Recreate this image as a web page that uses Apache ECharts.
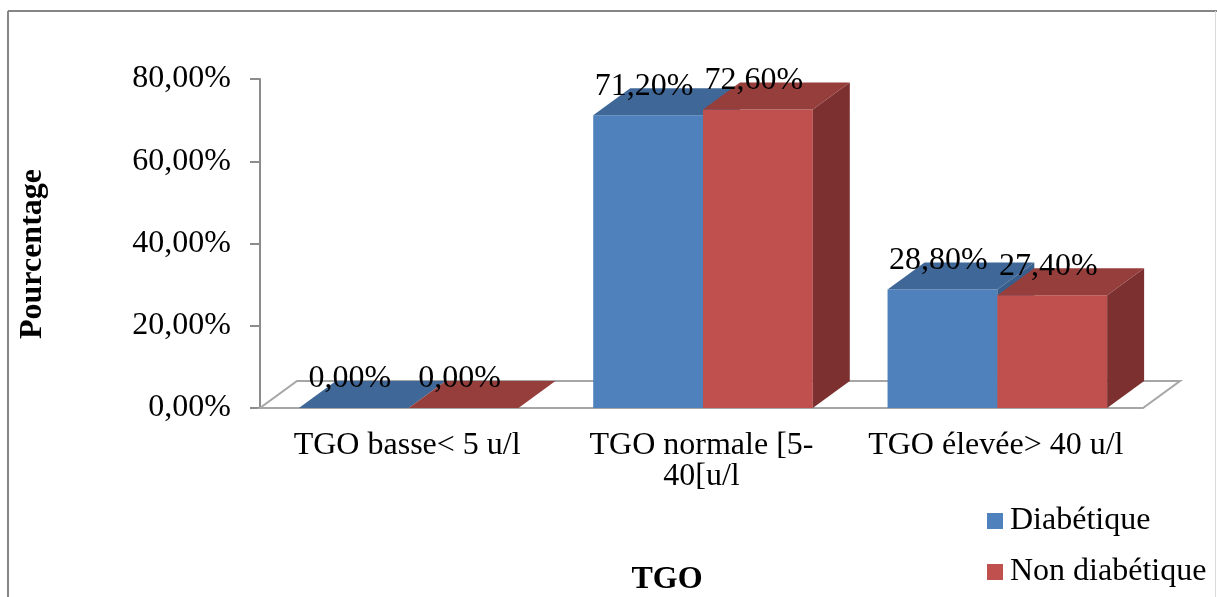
<!DOCTYPE html>
<html>
<head>
<meta charset="utf-8">
<title>TGO</title>
<script src="https://cdn.jsdelivr.net/npm/echarts@6/dist/echarts.min.js"></script>
<style>
  html, body { margin: 0; padding: 0; background: #ffffff; }
  #chart { width: 1217px; height: 597px; }
</style>
</head>
<body>
<div id="chart"></div>
<script>
// Categories (TGO levels) and the share of each group, in percent
const categories = ['TGO basse< 5 u/l', 'TGO normale [5-\n40[u/l', 'TGO élevée> 40 u/l'];
const diabetique = [0.0, 71.2, 28.8];
const nonDiabetique = [0.0, 72.6, 27.4];
const seriesNames = ['Diabétique', 'Non diabétique'];
const yMin = 0, yMax = 80, yStep = 20;

const FONT = '"Liberation Serif", "Times New Roman", serif';
const FS = 32;                  // main text size
const DX = 37, DY = -27;        // oblique depth of the 3D boxes and floor
const BAR_FRAC = 0.373;         // width of one bar as a share of the category band

const palette = [
  { front: '#4F81BD', top: '#3F6797', side: '#385E8B' },
  { front: '#C0504D', top: '#953E3C', side: '#7C3130' }
];

const fmtPct = v => v.toFixed(2).replace('.', ',') + '%';

// One 3D box per data item: front face, side face, top face, value label
function makeBoxRenderer(slot) {
  const col = palette[slot];
  return function (params, api) {
    const ci = api.value(0);
    const v = api.value(1);
    const base = api.coord([ci, 0]);
    const top = api.coord([ci, v]);
    const band = api.size([1, 0])[0];
    const w = band * BAR_FRAC;
    const x0 = base[0] + 1.5 + (slot === 0 ? -w : 0);
    const ty = top[1], by = base[1];
    const children = [];
    if (by - ty > 0.01) {
      children.push({
        type: 'rect',
        shape: { x: x0, y: ty, width: w, height: by - ty },
        style: { fill: col.front }
      });
      children.push({
        type: 'polygon',
        shape: { points: [[x0 + w, ty], [x0 + w + DX, ty + DY], [x0 + w + DX, by + DY], [x0 + w, by]] },
        style: { fill: col.side }
      });
    }
    children.push({
      type: 'polygon',
      shape: { points: [[x0, ty], [x0 + w, ty], [x0 + w + DX, ty + DY], [x0 + DX, ty + DY]] },
      style: { fill: col.top }
    });
    children.push({
      type: 'text',
      z2: 10,
      style: {
        x: x0 + w / 2 - 4,
        y: ty + DY - 2,
        text: fmtPct(v),
        font: FS + 'px ' + FONT,
        fill: '#000000',
        align: 'center',
        verticalAlign: 'middle'
      }
    });
    return { type: 'group', children: children };
  };
}

// The floor of the 3D plot area
function renderFloor(params, api) {
  const cs = params.coordSys;
  const y0 = api.coord([0, 0])[1];
  const xl = cs.x, xr = cs.x + cs.width;
  return {
    type: 'polygon',
    shape: { points: [[xl, y0], [xr, y0], [xr + DX, y0 + DY], [xl + DX, y0 + DY]] },
    style: { fill: '#ffffff', stroke: '#A6A6A6', lineWidth: 2 }
  };
}

const chart = echarts.init(document.getElementById('chart'), null, { renderer: 'canvas' });

chart.setOption({
  animation: false,
  backgroundColor: '#ffffff',
  textStyle: { fontFamily: FONT },
  grid: { left: 260, right: 74, top: 79, bottom: 189, containLabel: false },
  xAxis: {
    type: 'category',
    data: categories,
    axisLine: { show: false },
    axisTick: { show: false },
    axisLabel: {
      interval: 0,
      color: '#000000',
      fontFamily: FONT,
      fontSize: FS,
      lineHeight: 31,
      margin: 22
    }
  },
  yAxis: {
    type: 'value',
    min: yMin,
    max: yMax,
    interval: yStep,
    splitLine: { show: false },
    axisLine: { show: true, lineStyle: { color: '#8C8C8C', width: 2 } },
    axisTick: { show: true, length: 10, lineStyle: { color: '#8C8C8C', width: 2 } },
    axisLabel: {
      color: '#000000',
      fontFamily: FONT,
      fontSize: FS,
      margin: 29,
      formatter: fmtPct
    }
  },
  legend: {
    orient: 'vertical',
    left: 987,
    top: 505,
    padding: 0,
    icon: 'rect',
    itemWidth: 16,
    itemHeight: 16,
    itemGap: 19,
    textStyle: { color: '#000000', fontFamily: FONT, fontSize: FS, lineHeight: 31, padding: [0, 0, 0, 2] },
    data: seriesNames
  },
  graphic: [
    { type: 'line', shape: { x1: 8, y1: 11, x2: 1217, y2: 11 }, style: { stroke: '#868686', lineWidth: 2 } },
    { type: 'line', shape: { x1: 8, y1: 11, x2: 8, y2: 597 }, style: { stroke: '#868686', lineWidth: 2 } },
    { type: 'line', shape: { x1: 1215.5, y1: 11, x2: 1215.5, y2: 597 }, style: { stroke: '#D9D9D9', lineWidth: 1 } },
    {
      type: 'text', x: 33, y: 254, rotation: Math.PI / 2,
      style: { text: 'Pourcentage', font: 'bold 32px ' + FONT, fill: '#000000', align: 'center', verticalAlign: 'middle' }
    },
    {
      type: 'text', x: 667, y: 580,
      style: { text: 'TGO', font: 'bold 32px ' + FONT, fill: '#000000', align: 'center', verticalAlign: 'middle' }
    }
  ],
  series: [
    {
      type: 'custom',
      name: 'floor',
      z: 1,
      silent: true,
      renderItem: renderFloor,
      data: [[0, 0]]
    },
    {
      type: 'custom',
      name: seriesNames[0],
      z: 2,
      itemStyle: { color: palette[0].front },
      renderItem: makeBoxRenderer(0),
      encode: { x: 0, y: 1 },
      data: diabetique.map((v, i) => [i, v])
    },
    {
      type: 'custom',
      name: seriesNames[1],
      z: 3,
      itemStyle: { color: palette[1].front },
      renderItem: makeBoxRenderer(1),
      encode: { x: 0, y: 1 },
      data: nonDiabetique.map((v, i) => [i, v])
    }
  ]
});
</script>
</body>
</html>
